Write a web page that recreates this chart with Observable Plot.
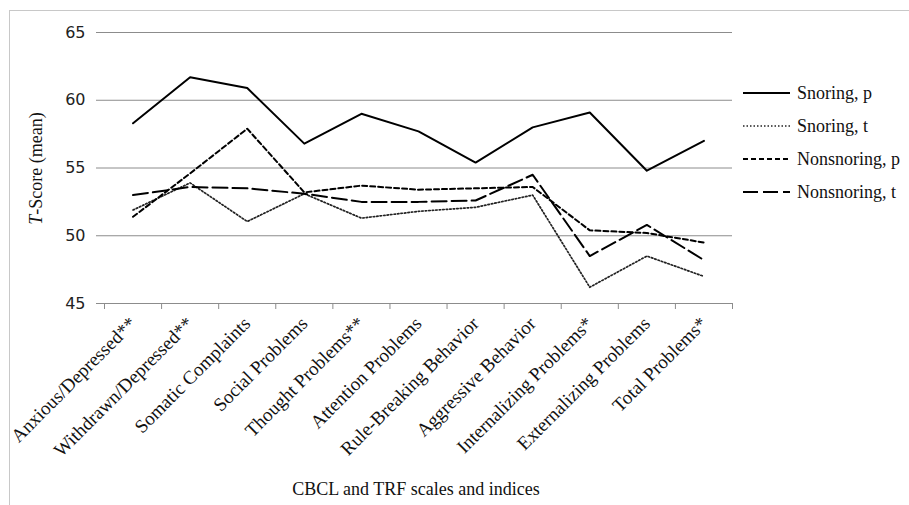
<!DOCTYPE html>
<html>
<head>
<meta charset="utf-8">
<script src="https://cdn.jsdelivr.net/npm/d3@7"></script>
<script src="https://cdn.jsdelivr.net/npm/@observablehq/plot@0.6"></script>
<style>
  body { margin: 0; background: #fff; }
  #wrap { position: relative; width: 909px; height: 505px; overflow: hidden; background: #fff; }
  #frame { position: absolute; left: 9px; top: 10px; width: 930px; height: 530px; border: 1px solid #c8c8c8; box-sizing: border-box; }
  #chart { position: absolute; left: 0; top: 0; }
  #overlay { position: absolute; left: 0; top: 0; pointer-events: none; }
</style>
</head>
<body>
<div id="wrap">
  <div id="frame"></div>
  <div id="chart"></div>
  <svg id="overlay" width="909" height="505"></svg>
</div>
<script>
const categories = [
  "Anxious/Depressed**", "Withdrawn/Depressed**", "Somatic Complaints", "Social Problems",
  "Thought Problems**", "Attention Problems", "Rule-Breaking Behavior", "Aggressive Behavior",
  "Internalizing Problems*", "Externalizing Problems", "Total Problems*"
];
const snoringP    = [58.3, 61.7, 60.9, 56.8, 59.0, 57.7, 55.4, 58.0, 59.1, 54.8, 57.0];
const snoringT    = [51.9, 53.9, 51.05, 53.1, 51.3, 51.8, 52.1, 53.0, 46.2, 48.5, 47.0];
const nonsnoringP = [51.4, 54.6, 57.9, 53.2, 53.7, 53.4, 53.5, 53.6, 50.4, 50.2, 49.5];
const nonsnoringT = [53.0, 53.6, 53.5, 53.1, 52.5, 52.5, 52.6, 54.5, 48.5, 50.8, 48.2];
const seriesNames = ["Snoring, p", "Snoring, t", "Nonsnoring, p", "Nonsnoring, t"];
const yTicks = [45, 50, 55, 60, 65];
const xTitle = "CBCL and TRF scales and indices";

const styles = [
  {stroke: "#000", strokeWidth: 2, strokeDasharray: null},
  {stroke: "#222", strokeWidth: 1.7, strokeDasharray: "1.5,2"},
  {stroke: "#000", strokeWidth: 2, strokeDasharray: "5,3"},
  {stroke: "#000", strokeWidth: 2, strokeDasharray: "15,5"}
];
const seriesValues = [snoringP, snoringT, nonsnoringP, nonsnoringT];

const idx = d3.range(categories.length);
const edges = d3.range(categories.length + 1).map(i => i - 0.5);
const gridColor = "#8c8c8c";

const plot = Plot.plot({
  width: 909, height: 505,
  marginLeft: 104, marginRight: 177, marginTop: 32, marginBottom: 202,
  x: {domain: [-0.5, categories.length - 0.5]},
  y: {domain: [45, 65]},
  style: {fontFamily: "'Liberation Serif', 'Times New Roman', serif", fontSize: "18px", color: "#000", background: "transparent", overflow: "visible"},
  marks: [
    Plot.gridY(yTicks, {stroke: gridColor, strokeOpacity: 1, strokeWidth: 1}),
    Plot.axisY(yTicks, {tickSize: 8, tickPadding: 11, stroke: gridColor, fill: "#222", label: null,
      fontFamily: "'DejaVu Sans', sans-serif", fontSize: 16}),
    Plot.axisX(edges, {tickSize: 6, tickFormat: () => "", stroke: gridColor, label: null}),
    Plot.axisX(idx, {tickSize: 0, tickPadding: 17, tickRotate: -45, tickFormat: i => categories[i],
      fill: "#111", label: null, fontSize: 19, fontFamily: "'Liberation Serif', serif"}),
    ...seriesValues.map((vals, k) => Plot.line(vals, {
      x: (d, i) => i, y: d => d,
      stroke: styles[k].stroke, strokeWidth: styles[k].strokeWidth,
      strokeDasharray: styles[k].strokeDasharray
    }))
  ]
});
document.getElementById("chart").appendChild(plot);

// legend and titles
const ov = d3.select("#overlay");
const serif = "'Liberation Serif', 'Times New Roman', serif";
const legendX = 743, legendY = 93, legendStep = 33;
seriesNames.forEach((name, k) => {
  const y = legendY + k * legendStep;
  ov.append("line").attr("x1", legendX).attr("x2", legendX + 47).attr("y1", y).attr("y2", y)
    .attr("stroke", styles[k].stroke).attr("stroke-width", styles[k].strokeWidth)
    .attr("stroke-dasharray", styles[k].strokeDasharray);
  ov.append("text").attr("x", legendX + 54).attr("y", y).attr("dy", "0.35em")
    .attr("font-family", serif).attr("font-size", 18).attr("fill", "#111").text(name);
});
ov.append("text").attr("x", 416).attr("y", 495).attr("text-anchor", "middle")
  .attr("font-family", serif).attr("font-size", 18).attr("fill", "#111").text(xTitle);
const yt = ov.append("text").attr("transform", "translate(42,168.5) rotate(-90)")
  .attr("text-anchor", "middle").attr("font-family", serif).attr("font-size", 18).attr("fill", "#111");
yt.append("tspan").attr("font-style", "italic").text("T");
yt.append("tspan").text("-Score (mean)");
</script>
</body>
</html>
